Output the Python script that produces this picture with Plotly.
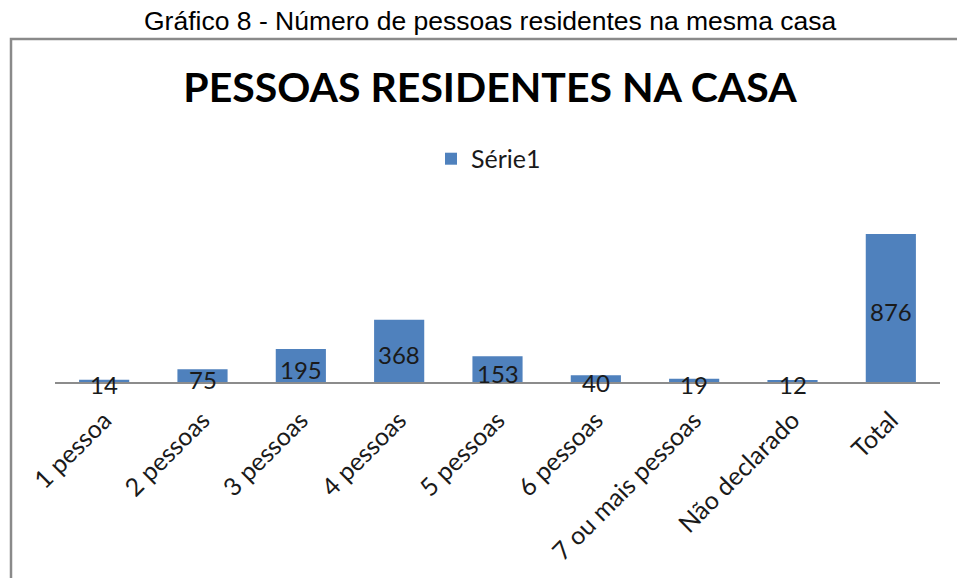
import plotly.graph_objects as go

categories = ["1 pessoa", "2 pessoas", "3 pessoas", "4 pessoas", "5 pessoas",
              "6 pessoas", "7 ou mais pessoas", "Não declarado", "Total"]
values = [14, 75, 195, 368, 153, 40, 19, 12, 876]
series_name = "Série1"
caption = "Gráfico 8 - Número de pessoas residentes na mesma casa"
chart_title = "PESSOAS RESIDENTES NA CASA"

W, H = 957, 578
OFF = 0  # body margin removed via post_script
# target plot area in page pixels: x 55..940, y 213..385
ml = 55 - OFF
mr = W - (940 - OFF)
mt = 213 - OFF
mb = H - (385 - OFF)
pw, ph = W - ml - mr, H - mt - mb

def px_x(x):
    return (x - OFF - ml) / pw

def px_y(y):
    return (H - mb - (y - OFF)) / ph

fig = go.Figure()
fig.add_trace(go.Bar(
    x=categories, y=values, name=series_name,
    marker=dict(color="#4F81BD", line=dict(width=0)),
    width=0.51, showlegend=True,
))

# data labels centred on each bar
for cat, v in zip(categories, values):
    fig.add_annotation(x=cat, y=v / 2, xref="x", yref="y", text=str(v),
                       showarrow=False, yshift=-4, xanchor="center", yanchor="middle",
                       font=dict(family="Lato", size=24, color="#1a1a1a"))

fig.update_layout(
    width=W, height=H,
    margin=dict(l=ml, r=mr, t=mt, b=mb),
    paper_bgcolor="white", plot_bgcolor="white",
    font=dict(family="Lato", color="#1a1a1a"),
    title=dict(text=f"<b>{chart_title}</b>", font=dict(family="Lato", size=41, color="black"),
               x=(490 - OFF) / W, xanchor="center", y=1 - (88 - OFF) / H, yanchor="middle"),
    legend=dict(orientation="h", x=px_x(431), xanchor="left", y=px_y(158), yanchor="middle",
                font=dict(family="Lato", size=25, color="#1a1a1a"), bgcolor="rgba(0,0,0,0)"),
    bargap=0.49,
    xaxis=dict(showline=True, linecolor="#8c8c8c", linewidth=1.5, ticks="",
               tickangle=-45, tickfont=dict(family="Lato", size=25, color="#1a1a1a"),
               ticklabelstandoff=12,
               showgrid=False, zeroline=False),
    yaxis=dict(range=[0, 1000], visible=False, showgrid=False, zeroline=False),
    showlegend=True,
)

fig.add_annotation(text=caption, xref="paper", yref="paper", x=px_x(490), y=px_y(18),
                   xanchor="center", yanchor="middle", showarrow=False,
                   font=dict(family="Liberation Sans", size=26.5, color="black"))

fig.add_shape(type="path", xref="paper", yref="paper",
              path=f"M {px_x(11)},{px_y(620)} L {px_x(11)},{px_y(36)} L {px_x(980)},{px_y(36)}",
              line=dict(color="#8a8a8a", width=2.5))

fig.write_html("out.html", config={"displayModeBar": False},
               post_script="document.body.style.margin='0';")
